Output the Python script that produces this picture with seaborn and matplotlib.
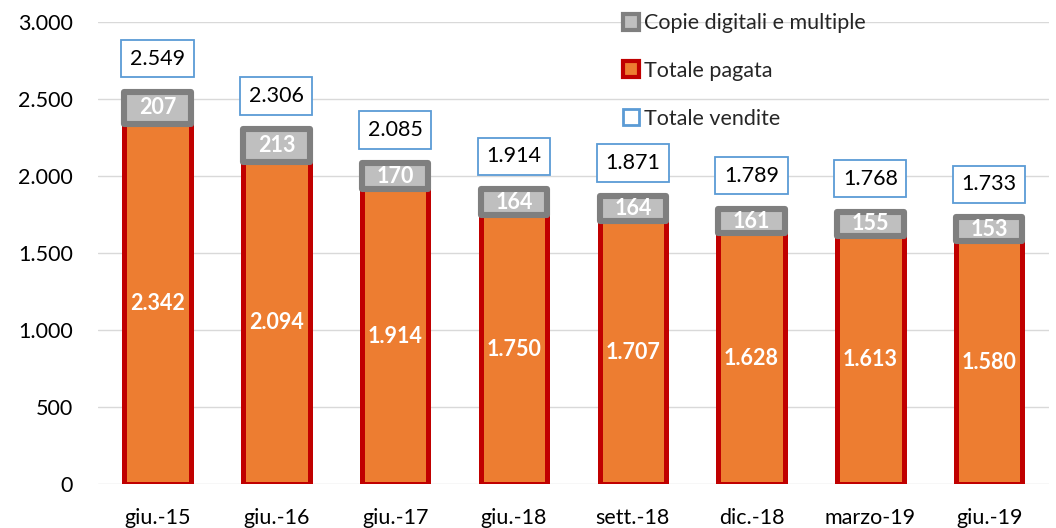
import numpy as np
import pandas as pd
import matplotlib
matplotlib.use("Agg")
import matplotlib.pyplot as plt
from matplotlib.ticker import FuncFormatter
from matplotlib.lines import Line2D
import seaborn as sns

periods = ["giu.-15", "giu.-16", "giu.-17", "giu.-18", "sett.-18", "dic.-18", "marzo-19", "giu.-19"]
pagata = [2342, 2094, 1914, 1750, 1707, 1628, 1613, 1580]
digitali = [207, 213, 170, 164, 164, 161, 155, 153]
vendite = [2549, 2306, 2085, 1914, 1871, 1789, 1768, 1733]


def fmt_it(v):
    return f"{int(round(v)):,}".replace(",", ".")


sns.set_theme(style="white")
plt.rcParams["font.family"] = ["Lato", "DejaVu Sans"]

df = pd.DataFrame({"Periodo": periods, "Pagata": pagata, "Digitali": digitali, "Vendite": vendite})

fig = plt.figure(figsize=(10.56, 5.28), dpi=100)
ax = fig.add_axes([0.093, 0.083, 0.9, 0.875])

bw = 0.56
sns.barplot(data=df, x="Periodo", y="Pagata", color="#ED7D31", width=bw,
            edgecolor="#C00000", linewidth=3.6, saturation=1, ax=ax, zorder=2)
n_first = len(ax.patches)
sns.barplot(data=df, x="Periodo", y="Digitali", bottom=df["Pagata"], color="#BFBFBF", width=bw,
            edgecolor="#7F7F7F", linewidth=4.4, saturation=1, ax=ax, zorder=3)
for p in ax.patches[n_first:]:
    p.set_joinstyle("round")

for i in range(len(periods)):
    ax.text(i, pagata[i] / 2, fmt_it(pagata[i]), ha="center", va="center",
            color="white", fontweight="bold", fontsize=15.5, zorder=5)
    ax.text(i, pagata[i] + digitali[i] / 2, fmt_it(digitali[i]), ha="center", va="center",
            color="white", fontweight="bold", fontsize=15.5, zorder=5)
    ax.text(i, vendite[i] + 215, fmt_it(vendite[i]), ha="center", va="center",
            color="black", fontsize=15.5, zorder=5,
            bbox=dict(boxstyle="square,pad=0.4", facecolor="white", edgecolor="#5B9BD5", linewidth=1.3))

ax.set_ylim(0, 3000)
ax.set_xlim(-0.5, len(periods) - 0.5)
ax.set_yticks(np.arange(0, 3001, 500))
ax.yaxis.set_major_formatter(FuncFormatter(lambda v, _: fmt_it(v)))
ax.grid(axis="y", color="#D9D9D9", linewidth=1, zorder=0)
ax.set_axisbelow(True)
for s in ax.spines.values():
    s.set_visible(False)
ax.set_xlabel("")
ax.set_ylabel("")
ax.tick_params(axis="both", length=0, labelsize=15.5, colors="black")
ax.tick_params(axis="x", pad=17)
ax.tick_params(axis="y", pad=18)

handles = [
    Line2D([], [], marker="s", linestyle="", markersize=12, markerfacecolor="#BFBFBF",
           markeredgecolor="#7F7F7F", markeredgewidth=3),
    Line2D([], [], marker="s", linestyle="", markersize=12, markerfacecolor="#ED7D31",
           markeredgecolor="#C00000", markeredgewidth=3),
    Line2D([], [], marker="s", linestyle="", markersize=12, markerfacecolor="white",
           markeredgecolor="#5B9BD5", markeredgewidth=2),
]
labels = ["Copie digitali e multiple", "Totale pagata", "Totale vendite"]
fig.legend(handles, labels, loc="upper left", bbox_to_anchor=(0.569, 1.012), frameon=False,
           fontsize=15.5, labelspacing=1.3, handletextpad=0.1, handlelength=1.0)

fig.savefig("out.png", dpi=100)
